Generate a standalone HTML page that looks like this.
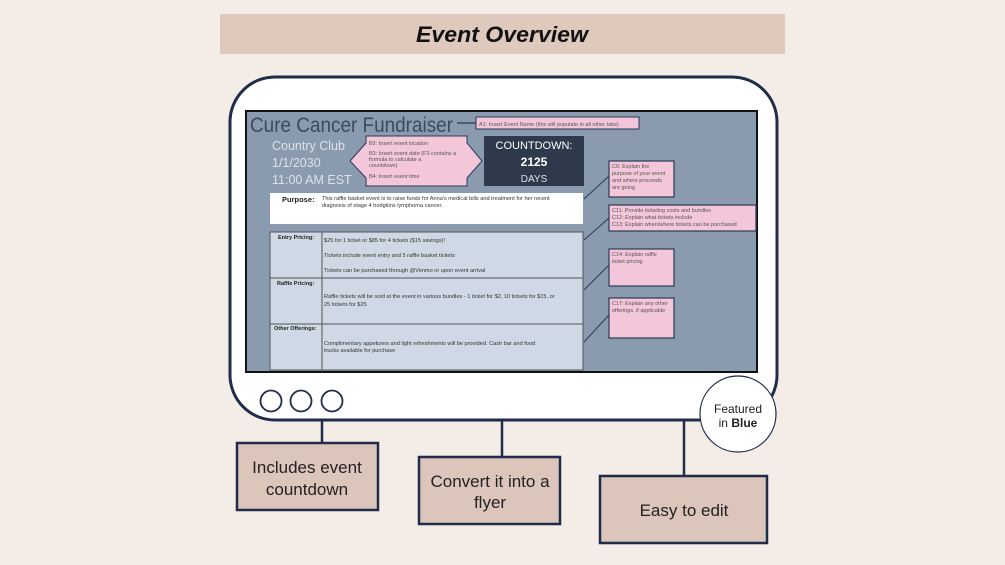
<!DOCTYPE html>
<html><head><meta charset="utf-8"><style>
html,body{margin:0;padding:0;background:#f4ece7;}
svg{display:block;}
text{font-family:"Liberation Sans",sans-serif;}
</style></head><body>
<svg width="1005" height="565" viewBox="0 0 1005 565" xmlns="http://www.w3.org/2000/svg">
<rect x="0" y="0" width="1005" height="565" fill="#f4ece7"/>
<rect x="220" y="14" width="565" height="40" fill="#dfc8bc"/>
<text x="502" y="42" text-anchor="middle" font-family="Liberation Serif,serif" font-style="italic" font-weight="bold" font-size="22" fill="#111" textLength="172" lengthAdjust="spacingAndGlyphs">Event Overview</text>
<!-- connectors -->
<line x1="322" y1="418" x2="322" y2="443" stroke="#1f2d4a" stroke-width="2.5"/>
<line x1="502" y1="418" x2="502" y2="457" stroke="#1f2d4a" stroke-width="2.5"/>
<line x1="684" y1="418" x2="684" y2="476" stroke="#1f2d4a" stroke-width="2.5"/>
<!-- monitor -->
<rect x="230" y="77" width="547" height="343" rx="45" fill="#fff" stroke="#1f2d4a" stroke-width="3"/>
<!-- screen -->
<rect x="246" y="111" width="511" height="261" fill="#8a9bb0" stroke="#111" stroke-width="2"/>
<text x="250" y="132" font-size="21" fill="#3d4a5c" textLength="203" lengthAdjust="spacingAndGlyphs">Cure Cancer Fundraiser</text>
<line x1="457" y1="123" x2="476" y2="123" stroke="#2b3a52" stroke-width="1.2"/>
<rect x="476" y="117" width="163" height="12" fill="#f3c6da" stroke="#2b3a52" stroke-width="1"/>
<text x="479" y="126" font-size="5.5" fill="#555">A1: Insert Event Name (this will populate in all other tabs)</text>
<text x="272" y="150" font-size="12.5" fill="#dde2e8">Country Club</text>
<text x="272" y="167" font-size="12.5" fill="#dde2e8">1/1/2030</text>
<text x="272" y="184" font-size="12.5" fill="#dde2e8">11:00 AM EST</text>
<polygon points="350,161 366,143 366,136 467,136 467,143 482,161 467,178 467,186 366,186 366,178" fill="#f3c6da" stroke="#2b3a52" stroke-width="1"/>
<text font-size="5.5" fill="#555"><tspan x="369" y="145">B2: Insert event location</tspan><tspan x="369" y="155">B3: Insert event date (F3 contains a</tspan><tspan x="369" y="161">formula to calculate a</tspan><tspan x="369" y="167">countdown)</tspan><tspan x="369" y="178">B4: Insert event time</tspan></text>
<rect x="484" y="136" width="100" height="50" fill="#2e3a4c"/>
<text x="534" y="149" text-anchor="middle" font-size="11" fill="#fff">COUNTDOWN:</text>
<text x="534" y="166" text-anchor="middle" font-size="12" font-weight="bold" fill="#fff">2125</text>
<text x="534" y="182" text-anchor="middle" font-size="10" fill="#dde2e8">DAYS</text>
<rect x="270" y="193" width="313" height="31" fill="#fff"/>
<text x="282" y="202" font-size="7.5" font-weight="bold" fill="#222">Purpose:</text>
<text font-size="5.6" fill="#333"><tspan x="322" y="200">This raffle basket event is to raise funds for Anna's medical bills and treatment for her recent</tspan><tspan x="322" y="207">diagnosis of stage 4 hodgkins lymphoma cancer.</tspan></text>
<rect x="270" y="232" width="313" height="138" fill="#cfd9e6" stroke="#555" stroke-width="1"/>
<line x1="322" y1="232" x2="322" y2="370" stroke="#555" stroke-width="1"/>
<line x1="270" y1="278" x2="583" y2="278" stroke="#555" stroke-width="1"/>
<line x1="270" y1="324" x2="583" y2="324" stroke="#555" stroke-width="1"/>
<text font-size="5.5" font-weight="bold" fill="#222"><tspan x="278" y="239">Entry Pricing:</tspan><tspan x="277" y="285">Raffle Pricing:</tspan><tspan x="274" y="330">Other Offerings:</tspan></text>
<text font-size="5.6" fill="#333"><tspan x="324" y="242">$25 for 1 ticket or $85 for 4 tickets ($15 savings)!</tspan><tspan x="324" y="257">Tickets include event entry and 5 raffle basket tickets</tspan><tspan x="324" y="272">Tickets can be purchased through @Venmo or upon event arrival</tspan><tspan x="324" y="298">Raffle tickets will be sold at the event in various bundles - 1 ticket for $2, 10 tickets for $15, or</tspan><tspan x="324" y="306">25 tickets for $25</tspan><tspan x="324" y="345">Complimentary appetizers and light refreshments will be provided. Cash bar and food</tspan><tspan x="324" y="352">trucks available for purchase</tspan></text>
<g stroke="#2b3a52" stroke-width="1"><line x1="584" y1="199" x2="609" y2="176"/><line x1="584" y1="240" x2="609" y2="218"/><line x1="584" y1="290" x2="609" y2="265"/><line x1="584" y1="342" x2="609" y2="315"/></g>
<g fill="#f3c6da" stroke="#2b3a52" stroke-width="1.2"><rect x="609" y="161" width="65" height="36"/><rect x="609" y="205" width="147" height="26"/><rect x="609" y="249" width="65" height="37"/><rect x="609" y="298" width="65" height="40"/></g>
<text font-size="5.5" fill="#555"><tspan x="612" y="168">C6: Explain the</tspan><tspan x="612" y="175">purpose of your event</tspan><tspan x="612" y="182">and where proceeds</tspan><tspan x="612" y="189">are going</tspan><tspan x="612" y="212">C11: Provide ticketing costs and bundles</tspan><tspan x="612" y="219">C12: Explain what tickets include</tspan><tspan x="612" y="226">C13: Explain when/where tickets can be purchased</tspan><tspan x="612" y="256">C14: Explain raffle</tspan><tspan x="612" y="263">ticket pricing</tspan><tspan x="612" y="305">C17: Explain any other</tspan><tspan x="612" y="312">offerings, if applicable</tspan></text>
<g fill="none" stroke="#1f2d4a" stroke-width="1.8"><circle cx="271" cy="401" r="10.5"/><circle cx="301" cy="401" r="10.5"/><circle cx="332" cy="401" r="10.5"/></g>
<circle cx="738" cy="414" r="38" fill="#fff" stroke="#1f2d4a" stroke-width="1.2"/>
<text x="738" y="413" text-anchor="middle" font-size="12" fill="#222">Featured</text>
<text x="738" y="427" text-anchor="middle" font-size="12" fill="#222">in <tspan font-weight="bold">Blue</tspan></text>
<g fill="#dcc5ba" stroke="#1f2d4a" stroke-width="2.5"><rect x="237" y="443" width="141" height="67"/><rect x="419" y="457" width="141" height="67"/><rect x="600" y="476" width="167" height="67"/></g>
<g font-size="17" fill="#222" text-anchor="middle"><text x="307" y="473">Includes event</text><text x="307" y="495">countdown</text><text x="490" y="487">Convert it into a</text><text x="490" y="508">flyer</text><text x="684" y="516">Easy to edit</text></g>
</svg>
</body></html>
